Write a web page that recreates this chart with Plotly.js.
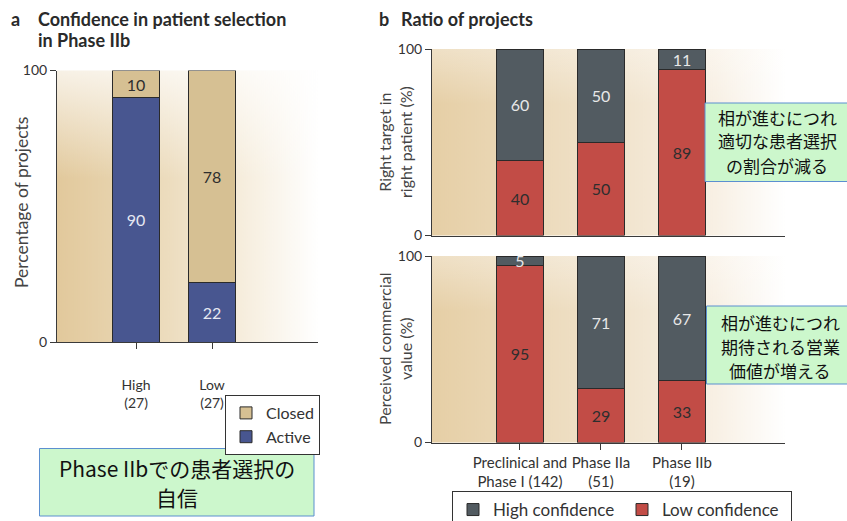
<!DOCTYPE html>
<html>
<head>
<meta charset="utf-8">
<script src="https://cdn.plot.ly/plotly-3.0.1.min.js"></script>
<style>
  html, body { margin: 0; padding: 0; background: #ffffff; overflow: hidden; }
  #chart { width: 847px; height: 521px; }
</style>
</head>
<body>
<div id="chart"></div>
<script>
// ---------- data ----------
const catsA = ['High<br>(27)', 'Low<br>(27)'];
const activeA = [90, 22];
const closedA = [10, 78];

const phasesB = ['Preclinical and<br>Phase I (142)', 'Phase IIa<br>(51)', 'Phase IIb<br>(19)'];
const targetLow = [40, 50, 89];
const targetHigh = [60, 50, 11];
const commercialLow = [95, 29, 33];
const commercialHigh = [5, 71, 67];

const yTicks = [0, 100];

const noteA = ['Phase IIbでの患者選択の', '自信'];
const noteB1 = ['相が進むにつれ', '適切な患者選択', 'の割合が減る'];
const noteB2 = ['相が進むにつれ', '期待される営業', '価値が増える'];

// ---------- geometry helpers ----------
const W = 847, H = 521;
const px = v => v / W;
const py = v => 1 - v / H;

const FONT = 'Lato, "Open Sans", sans-serif';
const JP = '"Noto Sans CJK JP", sans-serif';

const C = {
  active: '#485690', closed: '#d6c093',
  high: '#525b61', low: '#c24c46', edge: '#2a2a2a'
};

// background gradients drawn on canvas
function gradA() {
  const cv = document.createElement('canvas'); cv.width = 261; cv.height = 272;
  const g = cv.getContext('2d');
  let lg = g.createLinearGradient(0, 0, 261, 0);
  lg.addColorStop(0, '#e2c99c'); lg.addColorStop(0.35, '#ead8b6');
  lg.addColorStop(0.7, '#f6eddc'); lg.addColorStop(1, '#ffffff');
  g.fillStyle = lg; g.fillRect(0, 0, 261, 272);
  let vg = g.createLinearGradient(0, 0, 0, 272);
  vg.addColorStop(0, 'rgba(255,255,255,0.75)'); vg.addColorStop(0.4, 'rgba(255,255,255,0)');
  vg.addColorStop(1, 'rgba(255,255,255,0)');
  g.fillStyle = vg; g.fillRect(0, 0, 261, 272);
  return cv.toDataURL();
}
function gradB() {
  const cv = document.createElement('canvas'); cv.width = 353; cv.height = 187;
  const g = cv.getContext('2d');
  let lg = g.createLinearGradient(0, 0, 353, 0);
  lg.addColorStop(0, '#e6cfa6'); lg.addColorStop(0.45, '#efe0c6');
  lg.addColorStop(0.8, '#f8f0e4'); lg.addColorStop(1, '#ffffff');
  g.fillStyle = lg; g.fillRect(0, 0, 353, 187);
  let vg = g.createLinearGradient(0, 0, 0, 187);
  vg.addColorStop(0, 'rgba(255,255,255,0.35)'); vg.addColorStop(0.3, 'rgba(255,255,255,0)');
  vg.addColorStop(1, 'rgba(255,255,255,0)');
  g.fillStyle = vg; g.fillRect(0, 0, 353, 187);
  return cv.toDataURL();
}

function barTrace(x, y, color, textColor, name, xa, ya, width, legend, showlegend) {
  return {
    type: 'bar', x: x, y: y, name: name, xaxis: xa, yaxis: ya,
    width: width,
    marker: { color: color, line: { color: C.edge, width: 1 } },
    text: y.map(String), textposition: 'inside', insidetextanchor: 'middle',
    textangle: 0,
    insidetextfont: { family: FONT, size: 16, color: textColor },
    legend: legend, showlegend: showlegend, hoverinfo: 'x+y+name'
  };
}

const data = [
  barTrace(catsA, activeA, C.active, '#e6e8f2', 'Active', 'x', 'y', 0.62, 'legend', true),
  barTrace(catsA, closedA, C.closed, '#2e2e2e', 'Closed', 'x', 'y', 0.62, 'legend', true),
  barTrace(phasesB, targetLow, C.low, '#2e2e2e', 'Low confidence', 'x2', 'y2', 0.58, 'legend2', false),
  barTrace(phasesB, targetHigh, C.high, '#e8e8e8', 'High confidence', 'x2', 'y2', 0.58, 'legend2', false),
  barTrace(phasesB, commercialLow, C.low, '#2e2e2e', 'Low confidence', 'x3', 'y3', 0.58, 'legend2', true),
  barTrace(phasesB, commercialHigh, C.high, '#e8e8e8', 'High confidence', 'x3', 'y3', 0.58, 'legend2', true)
];

const axisCommon = {
  showline: true, linecolor: '#3a3a3a', linewidth: 1,
  showgrid: false, zeroline: false, fixedrange: true,
  tickfont: { family: FONT, size: 14, color: '#333' }, tickcolor: '#3a3a3a'
};

const domA = { x: [px(57), px(318)], y: [py(342), py(70.5)] };
const domB1 = { x: [px(432), px(785)], y: [py(235.5), py(49)] };
const domB2 = { x: [px(432), px(785)], y: [py(442.5), py(256)] };

function note(lines, cx, y0, step, size) {
  return lines.map((t, i) => ({
    text: t, xref: 'paper', yref: 'paper', x: px(cx), y: py(y0 + i * step),
    xanchor: 'center', yanchor: 'middle', showarrow: false, borderpad: 0,
    font: { family: JP, size: size, color: '#111' }
  }));
}

const layout = {
  width: W, height: H,
  margin: { l: 0, r: 0, t: 0, b: 0, autoexpand: false },
  paper_bgcolor: '#ffffff', plot_bgcolor: 'rgba(0,0,0,0)',
  barmode: 'stack', bargap: 0,
  uniformtext: { mode: 'show', minsize: 16 },
  font: { family: FONT, color: '#333' },
  xaxis: Object.assign({}, axisCommon, {
    domain: domA.x, anchor: 'y', type: 'category',
    range: [-1.04, 2.395], ticks: 'outside', ticklen: 6, ticklabelstandoff: 24
  }),
  yaxis: Object.assign({}, axisCommon, {
    domain: domA.y, anchor: 'x', range: [0, 100], tickvals: yTicks,
    ticks: 'outside', ticklen: 6
  }),
  xaxis2: Object.assign({}, axisCommon, {
    domain: domB1.x, anchor: 'y2', type: 'category',
    range: [-1.086, 3.272], ticks: '', showticklabels: false
  }),
  yaxis2: Object.assign({}, axisCommon, {
    domain: domB1.y, anchor: 'x2', range: [0, 100], tickvals: yTicks,
    ticks: 'outside', ticklen: 6
  }),
  xaxis3: Object.assign({}, axisCommon, {
    domain: domB2.x, anchor: 'y3', type: 'category',
    range: [-1.086, 3.272], ticks: 'outside', ticklen: 6,
    tickfont: { family: FONT, size: 15, color: '#333' }
  }),
  yaxis3: Object.assign({}, axisCommon, {
    domain: domB2.y, anchor: 'x3', range: [0, 100], tickvals: yTicks,
    ticks: 'outside', ticklen: 6
  }),
  legend: {
    x: px(225), y: py(395), xanchor: 'left', yanchor: 'top',
    traceorder: 'reversed', orientation: 'v',
    bgcolor: '#ffffff', bordercolor: '#333', borderwidth: 1,
    font: { family: FONT, size: 16, color: '#333' },
    tracegroupgap: 0, itemclick: false, itemdoubleclick: false
  },
  legend2: {
    x: px(452), y: py(491), xanchor: 'left', yanchor: 'top',
    traceorder: 'reversed', orientation: 'h',
    bgcolor: '#ffffff', bordercolor: '#333', borderwidth: 1,
    font: { family: FONT, size: 17, color: '#333' },
    entrywidth: 124, itemclick: false, itemdoubleclick: false
  },
  images: [
    { source: gradA(), xref: 'paper', yref: 'paper', x: domA.x[0], y: domA.y[1],
      sizex: domA.x[1] - domA.x[0], sizey: domA.y[1] - domA.y[0],
      sizing: 'stretch', xanchor: 'left', yanchor: 'top', layer: 'below' },
    { source: gradB(), xref: 'paper', yref: 'paper', x: domB1.x[0], y: domB1.y[1],
      sizex: domB1.x[1] - domB1.x[0], sizey: domB1.y[1] - domB1.y[0],
      sizing: 'stretch', xanchor: 'left', yanchor: 'top', layer: 'below' },
    { source: gradB(), xref: 'paper', yref: 'paper', x: domB2.x[0], y: domB2.y[1],
      sizex: domB2.x[1] - domB2.x[0], sizey: domB2.y[1] - domB2.y[0],
      sizing: 'stretch', xanchor: 'left', yanchor: 'top', layer: 'below' }
  ],
  shapes: [
    { type: 'rect', xref: 'paper', yref: 'paper', x0: px(39.5), x1: px(314), y0: py(516), y1: py(448.5),
      fillcolor: '#ccf7cc', line: { color: '#5b8fd0', width: 1 } },
    { type: 'rect', xref: 'paper', yref: 'paper', x0: px(705), x1: px(850), y0: py(181.5), y1: py(103),
      fillcolor: '#ccf7cc', line: { color: '#5b8fd0', width: 1 } },
    { type: 'rect', xref: 'paper', yref: 'paper', x0: px(706.5), x1: px(850), y0: py(384), y1: py(306),
      fillcolor: '#ccf7cc', line: { color: '#5b8fd0', width: 1 } }
  ],
  annotations: [
    { text: '<b>a</b>', xref: 'paper', yref: 'paper', x: px(9), y: py(19), xanchor: 'left', yanchor: 'middle',
      showarrow: false, font: { family: FONT, size: 18, color: '#2a2a2a' } },
    { text: '<b>Confidence in patient selection</b>', xref: 'paper', yref: 'paper',
      x: px(37), y: py(19), xanchor: 'left', yanchor: 'middle',
      showarrow: false, borderpad: 0, font: { family: FONT, size: 18, color: '#2a2a2a' } },
    { text: '<b>in Phase IIb</b>', xref: 'paper', yref: 'paper',
      x: px(37), y: py(40), xanchor: 'left', yanchor: 'middle',
      showarrow: false, borderpad: 0, font: { family: FONT, size: 18, color: '#2a2a2a' } },
    { text: '<b>b</b>', xref: 'paper', yref: 'paper', x: px(377), y: py(19), xanchor: 'left', yanchor: 'middle',
      showarrow: false, font: { family: FONT, size: 18, color: '#2a2a2a' } },
    { text: '<b>Ratio of projects</b>', xref: 'paper', yref: 'paper', x: px(399), y: py(19),
      xanchor: 'left', yanchor: 'middle', showarrow: false,
      font: { family: FONT, size: 18, color: '#2a2a2a' } },
    { text: 'Percentage of projects', xref: 'paper', yref: 'paper', x: px(22), y: py(203),
      textangle: -90, xanchor: 'center', yanchor: 'middle', showarrow: false,
      font: { family: FONT, size: 17.5, color: '#444' } },
    { text: 'Right target in<br>right patient (%)', xref: 'paper', yref: 'paper', x: px(395), y: py(142),
      textangle: -90, xanchor: 'center', yanchor: 'middle', showarrow: false,
      font: { family: FONT, size: 16, color: '#444' } },
    { text: 'Perceived commercial<br>value (%)', xref: 'paper', yref: 'paper', x: px(395), y: py(349),
      textangle: -90, xanchor: 'center', yanchor: 'middle', showarrow: false,
      font: { family: FONT, size: 16, color: '#444' } }
  ]
  .concat(note(noteA, 177, 468, 29, 21))
  .concat(note(noteB1, 777, 117, 24, 17))
  .concat(note(noteB2, 780, 322, 24, 17))
};

Plotly.newPlot('chart', data, layout, { displayModeBar: false, staticPlot: true });
</script>
</body>
</html>
